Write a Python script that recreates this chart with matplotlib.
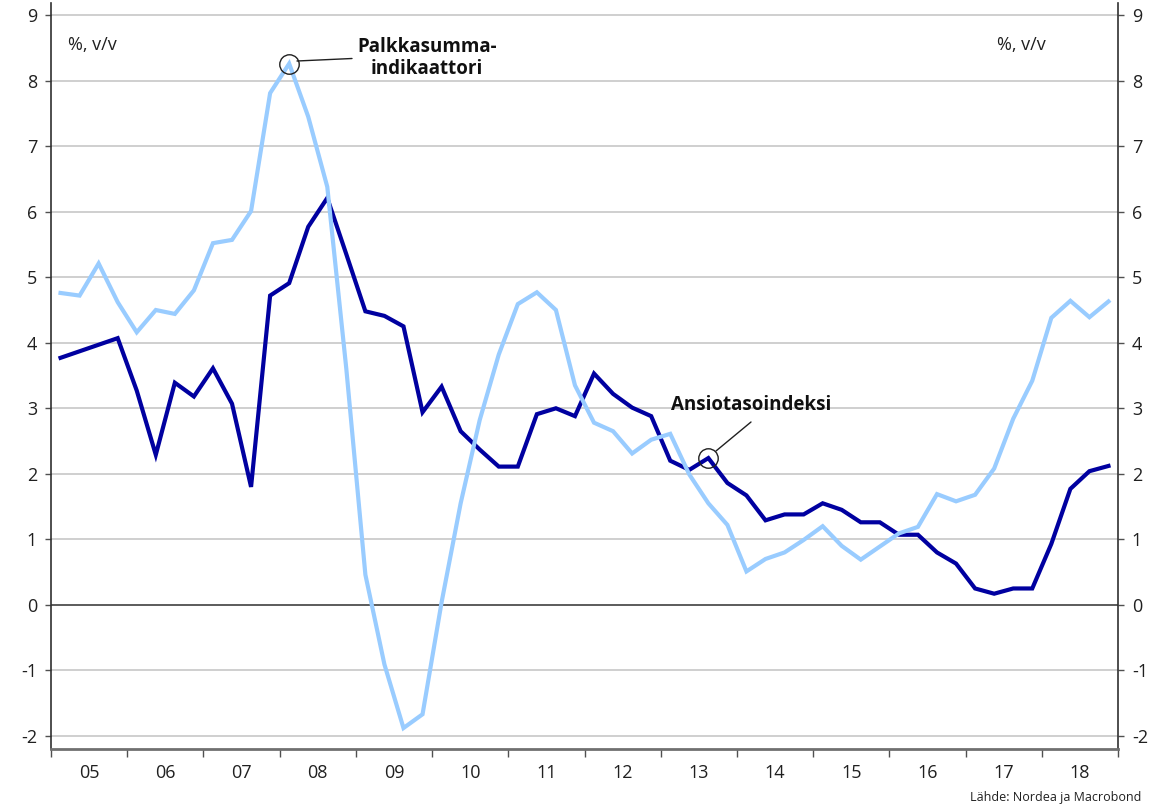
import matplotlib
matplotlib.use("Agg")
import matplotlib.pyplot as plt
import numpy as np

plt.rcParams['font.family'] = ['Open Sans', 'DejaVu Sans']
plt.rcParams['axes.unicode_minus'] = False

# Quarterly data 2005Q1 .. 2018Q4 (% y/y)
start_year = 2005
ansiotaso = [3.77, 3.87, 3.97, 4.07, 3.27, 2.29, 3.39, 3.18, 3.61, 3.07,
             1.80, 4.72, 4.91, 5.77, 6.21, 5.35, 4.48, 4.41, 4.25, 2.94,
             3.33, 2.65, 2.37, 2.11, 2.11, 2.91, 3.00, 2.88, 3.53, 3.22,
             3.01, 2.88, 2.20, 2.06, 2.24, 1.86, 1.67, 1.29, 1.38, 1.38,
             1.55, 1.45, 1.26, 1.26, 1.07, 1.07, 0.80, 0.63, 0.25, 0.17,
             0.25, 0.25, 0.93, 1.77, 2.04, 2.12]
palkkasumma = [4.76, 4.72, 5.21, 4.62, 4.16, 4.50, 4.44, 4.80, 5.52, 5.57,
               6.01, 7.81, 8.26, 7.45, 6.38, 3.60, 0.46, -0.91, -1.88, -1.67,
               0.04, 1.55, 2.82, 3.82, 4.59, 4.77, 4.50, 3.35, 2.78, 2.65,
               2.31, 2.52, 2.61, 1.99, 1.55, 1.22, 0.51, 0.70, 0.80, 0.99,
               1.20, 0.90, 0.69, 0.89, 1.09, 1.19, 1.69, 1.58, 1.68, 2.08,
               2.84, 3.42, 4.38, 4.64, 4.39, 4.63]
year_labels = ['05', '06', '07', '08', '09', '10', '11', '12', '13', '14',
               '15', '16', '17', '18']
y_ticks = [-2, -1, 0, 1, 2, 3, 4, 5, 6, 7, 8, 9]

dark = '#0000A0'
light = '#99CCFF'

x = start_year + (np.arange(len(ansiotaso)) + 0.5) / 4.0

fig = plt.figure(figsize=(11.74, 8.07), dpi=100)
ax = fig.add_axes([51/1174, 1 - 749/807, (1118-51)/1174, (749-2.7)/807])

ax.set_ylim(-2.2, 9.19)
ax.set_xlim(start_year, start_year + len(year_labels))

for v in y_ticks:
    if v == 0:
        ax.axhline(0, color='#404040', lw=1.2, zorder=1)
    else:
        ax.axhline(v, color='#cccccc', lw=1.3, zorder=1)

ax.plot(x, ansiotaso, color=dark, lw=3.0, zorder=3, solid_joinstyle='miter')
ax.plot(x, palkkasumma, color=light, lw=3.0, zorder=4, solid_joinstyle='miter')

# axes styling
ax.spines['top'].set_visible(False)
ax.spines['left'].set_color('#303030')
ax.spines['right'].set_color('#303030')
ax.spines['bottom'].set_color('#707070')
ax.spines['bottom'].set_linewidth(2)
ax.spines['left'].set_linewidth(1.2)
ax.spines['right'].set_linewidth(1.2)

ax.set_yticks(y_ticks)
ax.set_yticklabels([str(v) for v in y_ticks])
ax.tick_params(axis='y', which='major', length=4, width=1, color='#505050',
               labelsize=13, pad=6, labelcolor='#202020', direction='out',
               left=True, right=True, labelleft=True, labelright=True)

years = np.arange(start_year, start_year + len(year_labels) + 1)
ax.set_xticks(years)
ax.set_xticklabels([])
ax.set_xticks(years[:-1] + 0.5, minor=True)
ax.set_xticklabels(year_labels, minor=True)
ax.tick_params(axis='x', which='major', length=6, width=1, color='#505050', direction='out')
ax.tick_params(axis='x', which='minor', length=0, labelsize=13, pad=11, labelcolor='#202020')

# unit labels
fig.text(68/1174, 1 - 45/807, '%, v/v', fontsize=13, ha='left', va='center', color='#202020')
fig.text(997/1174, 1 - 45/807, '%, v/v', fontsize=13, ha='left', va='center', color='#202020')

# annotations
i_peak = int(np.argmax(palkkasumma))
ax.plot(x[i_peak], palkkasumma[i_peak], 'o', ms=14, mfc='none', mec='#202020', mew=1.0, zorder=5)
ax.annotate('', xy=(297/1174, 1 - 61/807), xycoords='figure fraction',
            xytext=(352/1174, 1 - 58.5/807), textcoords='figure fraction',
            arrowprops=dict(arrowstyle='-', color='#202020', lw=1.0, shrinkA=0, shrinkB=0))
fig.text(427/1174, 1 - 58/807, 'Palkkasumma-\nindikaattori', fontsize=13.5, fontweight='bold',
         ha='center', va='center', color='#101010', linespacing=1.15)

i_ann = 34
ax.plot(x[i_ann], ansiotaso[i_ann], 'o', ms=14, mfc='none', mec='#202020', mew=1.0, zorder=5)
ax.annotate('', xy=(716/1174, 1 - 451/807), xycoords='figure fraction',
            xytext=(751/1174, 1 - 422/807), textcoords='figure fraction',
            arrowprops=dict(arrowstyle='-', color='#202020', lw=1.0, shrinkA=0, shrinkB=0))
fig.text(751/1174, 1 - 405/807, 'Ansiotasoindeksi', fontsize=13.5, fontweight='bold',
         ha='center', va='center', color='#101010')

fig.text(1141/1174, 1 - 797/807, 'Lähde: Nordea ja Macrobond', fontsize=9,
         ha='right', va='center', color='#202020')

fig.savefig('out.png', dpi=100)
